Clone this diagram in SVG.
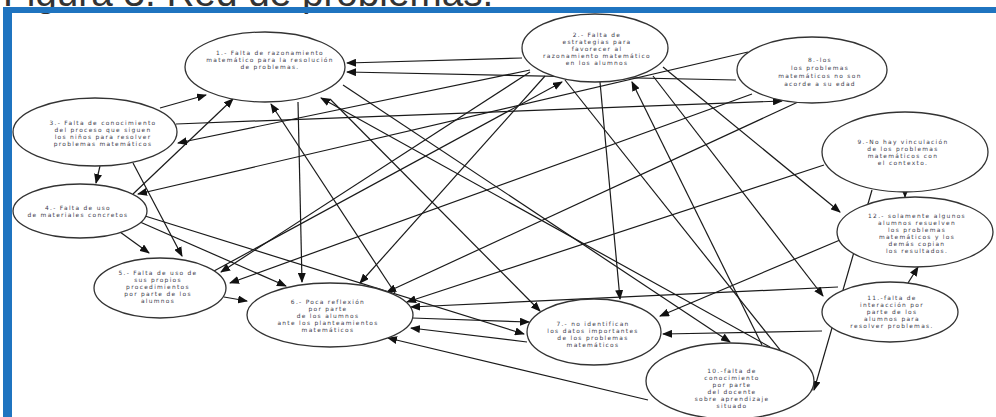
<svg xmlns="http://www.w3.org/2000/svg" width="996" height="417" viewBox="0 0 996 417">
<defs>
<marker id="ah" markerUnits="userSpaceOnUse" markerWidth="10" markerHeight="8" refX="9" refY="4" orient="auto"><path d="M0,0 L10,4 L0,8 Z" fill="#111"/></marker>
<style>
.n ellipse{fill:#fff;stroke:#333;stroke-width:1.3}
.n text{font-family:"DejaVu Sans",Verdana,sans-serif;font-size:5.9px;letter-spacing:1.3px;fill:#3c3c4c;text-anchor:middle}
#edges path{fill:none;stroke:#1a1a1a;stroke-width:1.2;marker-end:url(#ah)}
</style>
</defs>
<rect width="996" height="417" fill="#fff"/>
<text x="3" y="6" font-family="Liberation Sans, Arial, sans-serif" font-size="38.7" fill="#333">Figura 3. Red de problemas.</text>
<rect x="3" y="7" width="993" height="6" fill="#1f74c0"/>
<rect x="3" y="7" width="9" height="410" fill="#1f74c0"/>
<g id="edges">
<path d="M522,58 L347,63"/>
<path d="M736,80 L347,72"/>
<path d="M160,108 L206,95"/>
<path d="M133,194 L233,99"/>
<path d="M100,166 L96,183"/>
<path d="M133,163 L182,256"/>
<path d="M120,232 L149,253"/>
<path d="M748,52 L138,194"/>
<path d="M530,70 L178,143"/>
<path d="M176,124 L782,101"/>
<path d="M214,271 L562,82"/>
<path d="M762,345 L632,82"/>
<path d="M565,80 L812,390"/>
<path d="M872,190 L814,390"/>
<path d="M343,85 L730,342"/>
<path d="M770,347 L321,98"/>
<path d="M395,293 L271,104"/>
<path d="M822,331 L663,334"/>
<path d="M908,283 L918,267"/>
<path d="M905,190 L905,197"/>
<path d="M648,400 L388,338"/>
<path d="M224,297 L247,301"/>
<path d="M412,318 L529,322"/>
<path d="M527,342 L411,328"/>
<path d="M145,216 L524,334"/>
<path d="M140,222 L286,286"/>
<path d="M600,82 L620,299"/>
<path d="M663,67 L840,212"/>
<path d="M653,76 L823,296"/>
<path d="M298,102 L302,282"/>
<path d="M545,76 L360,283"/>
<path d="M798,102 L387,292"/>
<path d="M824,165 L407,302"/>
<path d="M838,287 L411,307"/>
<path d="M840,240 L660,316"/>
<path d="M530,72 L221,272"/>
<path d="M752,94 L230,283"/>
<path d="M330,99 L540,311"/>
</g>
<g id="n1" class="n"><ellipse cx="265" cy="67" rx="80" ry="35"/><text x="270" y="54.5">1.- Falta de razonamiento</text><text x="270" y="61.5">matemático para la resolución</text><text x="270" y="68.5">de problemas.</text></g>
<g id="n2" class="n"><ellipse cx="595" cy="48" rx="73" ry="34"/><text x="597" y="36.5">2.- Falta de</text><text x="597" y="43.5">estrategias para</text><text x="597" y="50.5">favorecer al</text><text x="597" y="57.5">razonamiento matemático</text><text x="597" y="64.5">en los alumnos</text></g>
<g id="n8" class="n"><ellipse cx="812" cy="70" rx="75" ry="33"/><text x="820" y="62">8.-los</text><text x="820" y="70">los problemas</text><text x="820" y="78">matemáticos no son</text><text x="820" y="86">acorde a su edad</text></g>
<g id="n3" class="n"><ellipse cx="95" cy="132" rx="82" ry="34"/><text x="103" y="125">3.- Falta de conocimiento</text><text x="103" y="132">del proceso que siguen</text><text x="103" y="139">los niños para resolver</text><text x="103" y="146">problemas matemáticos</text></g>
<g id="n4" class="n"><ellipse cx="80" cy="211" rx="67" ry="27"/><text x="78" y="209.5">4.- Falta de uso</text><text x="78" y="216.5">de materiales concretos</text></g>
<g id="n5" class="n"><ellipse cx="160" cy="288" rx="66" ry="30"/><text x="158" y="274.5">5.- Falta de uso de</text><text x="158" y="281.5">sus propios</text><text x="158" y="288.5">procedimientos</text><text x="158" y="295.5">por parte de los</text><text x="158" y="302.5">alumnos</text></g>
<g id="n6" class="n"><ellipse cx="330" cy="315" rx="83" ry="32"/><text x="328" y="304">6.- Poca reflexión</text><text x="328" y="311">por parte</text><text x="328" y="318">de los alumnos</text><text x="328" y="325">ante los planteamientos</text><text x="328" y="332">matemáticos</text></g>
<g id="n7" class="n"><ellipse cx="594" cy="332" rx="67" ry="33"/><text x="593" y="326">7.- no identifican</text><text x="593" y="333">los datos importantes</text><text x="593" y="340">de los problemas</text><text x="593" y="347">matemáticos</text></g>
<g id="n10" class="n"><ellipse cx="730" cy="381" rx="84" ry="38"/><text x="732" y="372.5">10.-falta de</text><text x="732" y="379.5">conocimiento</text><text x="732" y="386.5">por parte</text><text x="732" y="393.5">del docente</text><text x="732" y="400.5">sobre aprendizaje</text><text x="732" y="407.5">situado</text></g>
<g id="n9" class="n"><ellipse cx="905" cy="152" rx="83" ry="40"/><text x="903" y="143.5">9.-No hay vinculación</text><text x="903" y="150.5">de los problemas</text><text x="903" y="157.5">matemáticos con</text><text x="903" y="164.5">el contexto.</text></g>
<g id="n12" class="n"><ellipse cx="915" cy="232" rx="78" ry="35"/><text x="917" y="217.5">12.- solamente algunos</text><text x="917" y="224.5">alumnos resuelven</text><text x="917" y="231.5">los problemas</text><text x="917" y="238.5">matemáticos y los</text><text x="917" y="245.5">demás copian</text><text x="917" y="252.5">los resultados.</text></g>
<g id="n11" class="n"><ellipse cx="890" cy="312" rx="68" ry="30"/><text x="892" y="300">11.-falta de</text><text x="892" y="307">interacción por</text><text x="892" y="314">parte de los</text><text x="892" y="321">alumnos para</text><text x="892" y="328">resolver problemas.</text></g>
</svg>
